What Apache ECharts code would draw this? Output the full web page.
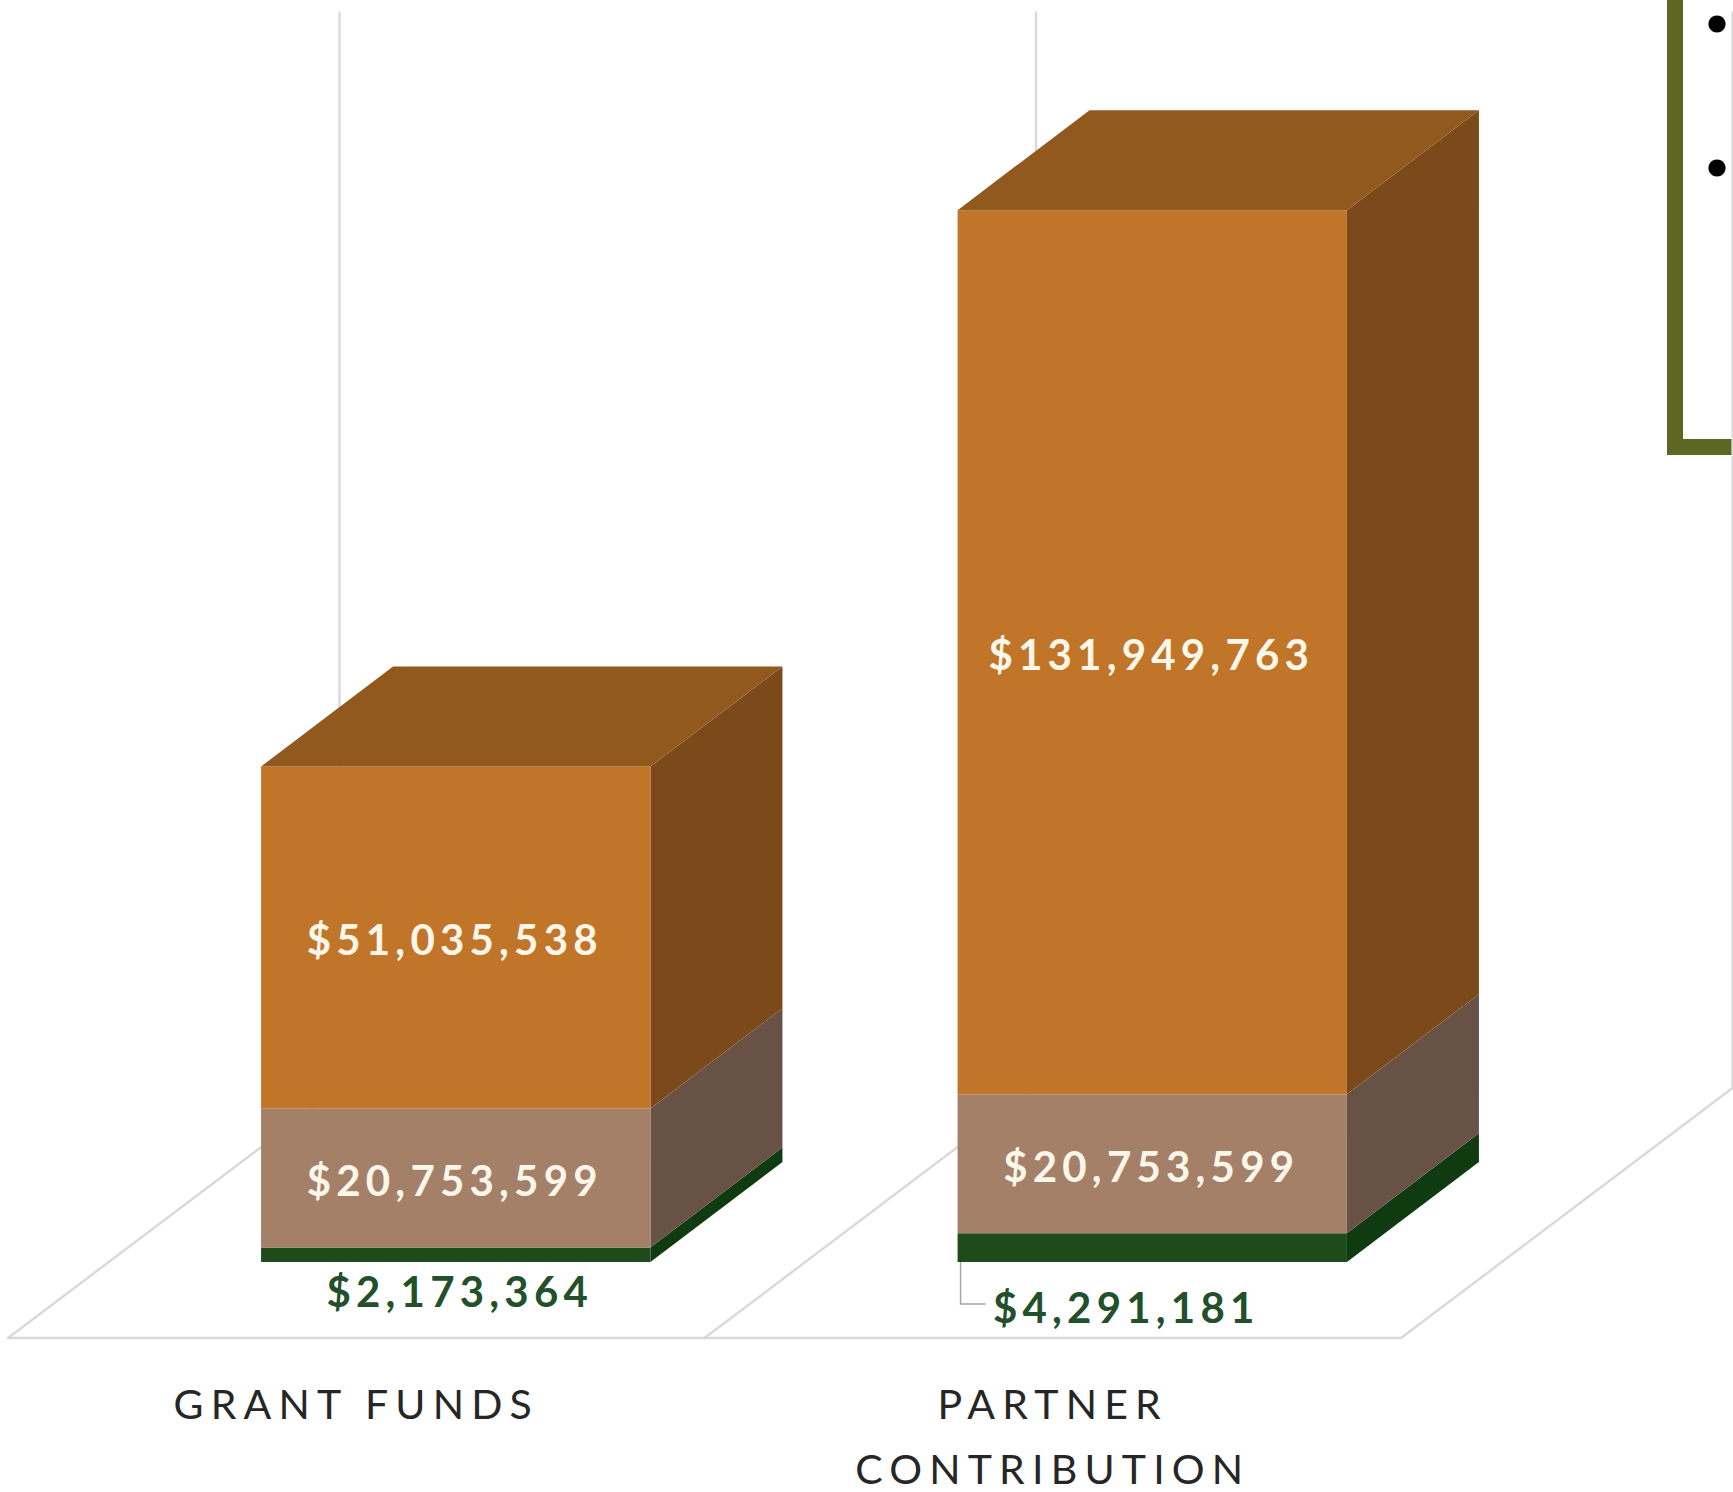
<!DOCTYPE html>
<html>
<head>
<meta charset="utf-8">
<style>
html,body{margin:0;padding:0;background:#fff}
#c{width:1733px;height:1492px}
svg text{letter-spacing:5.2px}
svg text[style*="41px"]{letter-spacing:7.2px}
</style>
<script src="https://cdn.jsdelivr.net/npm/echarts@6/dist/echarts.min.js"></script>
</head>
<body>
<div id="c"></div>
<script>
const categories = ['GRANT FUNDS', 'PARTNER\nCONTRIBUTION'];
const greenValues = [2173364, 4291181];
const brownValues = [20753599, 20753599];
const orangeValues = [51035538, 131949763];
const axisMax = 198000000;

const FLOOR_DX = 331.5, FLOOR_DY = 250;
const BAR_OFF_DX = 99.5, BAR_OFF_DY = 76;
const DEPTH_DX = 132, DEPTH_DY = 100;
const BAR_RATIO = 0.559;
const GRID = '#d9d9d9';

const money = v => '$' + v.toLocaleString('en-US');

function floorItem(params, api) {
  const i = api.value(0);
  const o = api.coord([i, 0]);
  const top = api.coord([i, axisMax])[1];
  const band = api.size([1, 0])[0];
  const edges = i === categories.length - 1 ? [o[0] - band / 2, o[0] + band / 2] : [o[0] - band / 2];
  const children = [];
  edges.forEach(x => {
    children.push({
      type: 'polyline', silent: true,
      shape: { points: [[x, o[1]], [x + FLOOR_DX, o[1] - FLOOR_DY], [x + FLOOR_DX, top]] },
      style: { stroke: GRID, lineWidth: 2.4, fill: null }
    });
  });
  return { type: 'group', children };
}

function boxItem(face, opts) {
  return function (params, api) {
    const i = api.value(0), base = api.value(1), val = api.value(2);
    const c = api.coord([i, base]);
    const t = api.coord([i, base + val]);
    const band = api.size([1, 0])[0];
    const w = band * BAR_RATIO;
    const l = c[0] + BAR_OFF_DX - w / 2, r = l + w;
    const b = c[1] - BAR_OFF_DY, u = t[1] - BAR_OFF_DY;
    const children = [
      { type: 'polygon', shape: { points: [[r, b], [r + DEPTH_DX, b - DEPTH_DY], [r + DEPTH_DX, u - DEPTH_DY], [r, u]] }, style: { fill: face.side } },
      { type: 'rect', shape: { x: l, y: u, width: w, height: b - u }, style: { fill: face.front } }
    ];
    if (face.top) {
      children.push({ type: 'polygon', shape: { points: [[l, u], [l + DEPTH_DX, u - DEPTH_DY], [r + DEPTH_DX, u - DEPTH_DY], [r, u]] }, style: { fill: face.top } });
    }
    const font = 'bold 42px Lato, "Open Sans", sans-serif';
    if (opts && opts.outside) {
      const p = opts.outside[i];
      const cx = (l + r) / 2;
      if (p.leader) {
        children.push({
          type: 'polyline',
          shape: { points: [[l + 3, b], [l + 3, b + p.dy - 3], [l + 28, b + p.dy - 3]] },
          style: { stroke: '#a6a6a6', lineWidth: 1.5, fill: null }
        });
      }
      children.push({ type: 'text', style: { text: money(val), x: cx + p.dx, y: b + p.dy, align: 'center', verticalAlign: 'middle', fill: '#22502a', font } });
    } else {
      children.push({ type: 'text', style: { text: money(val), x: (l + r) / 2 - 1, y: (u + b) / 2 + 2, align: 'center', verticalAlign: 'middle', fill: '#fbf6ea', font } });
    }
    return { type: 'group', children };
  };
}

const stackData = (vals, below) => vals.map((v, i) => [i, below.reduce((s, a) => s + a[i], 0), v]);

const chart = echarts.init(document.getElementById('c'), null, { renderer: 'svg', width: 1733, height: 1492 });
chart.setOption({
  animation: false,
  backgroundColor: '#ffffff',
  grid: { left: 8, width: 1393, top: 11.4, height: 1326.6, containLabel: false, outerBoundsMode: 'none' },
  xAxis: {
    type: 'category',
    data: categories,
    axisLine: { lineStyle: { color: GRID, width: 2.4 } },
    axisTick: { show: false },
    axisLabel: { interval: 0, margin: 33, color: '#262626', fontFamily: 'Lato, "Open Sans", sans-serif', fontSize: 41, lineHeight: 65 }
  },
  yAxis: { type: 'value', min: 0, max: axisMax, show: false, splitLine: { show: false } },
  graphic: [
    { type: 'polyline', silent: true, shape: { points: [[1675, 0], [1675, 447], [1740, 447]] }, style: { stroke: '#5d6623', lineWidth: 16, fill: null, lineJoin: 'miter' } },
    { type: 'circle', silent: true, shape: { cx: 1717, cy: 24, r: 8.6 }, style: { fill: '#000' } },
    { type: 'circle', silent: true, shape: { cx: 1717, cy: 168, r: 8.6 }, style: { fill: '#000' } }
  ],
  series: [
    { type: 'custom', name: 'floor', clip: false, z: 1, data: categories.map((c, i) => [i]), encode: { x: 0 }, renderItem: floorItem },
    { type: 'custom', name: 'green', clip: false, z: 2,
      data: stackData(greenValues, []), encode: { x: 0, y: 2 },
      renderItem: boxItem({ front: '#1e4a1c', side: '#103a10' }, { outside: [{ dx: 4, dy: 29 }, { dx: -26, dy: 45, leader: true }] }) },
    { type: 'custom', name: 'brown', clip: false, z: 3,
      data: stackData(brownValues, [greenValues]), encode: { x: 0, y: 2 },
      renderItem: boxItem({ front: '#a58069', side: '#685245' }) },
    { type: 'custom', name: 'orange', clip: false, z: 4,
      data: stackData(orangeValues, [greenValues, brownValues]), encode: { x: 0, y: 2 },
      renderItem: boxItem({ front: '#c07528', side: '#7c4a1a', top: '#91591e' }) }
  ]
});
</script>
</body>
</html>
